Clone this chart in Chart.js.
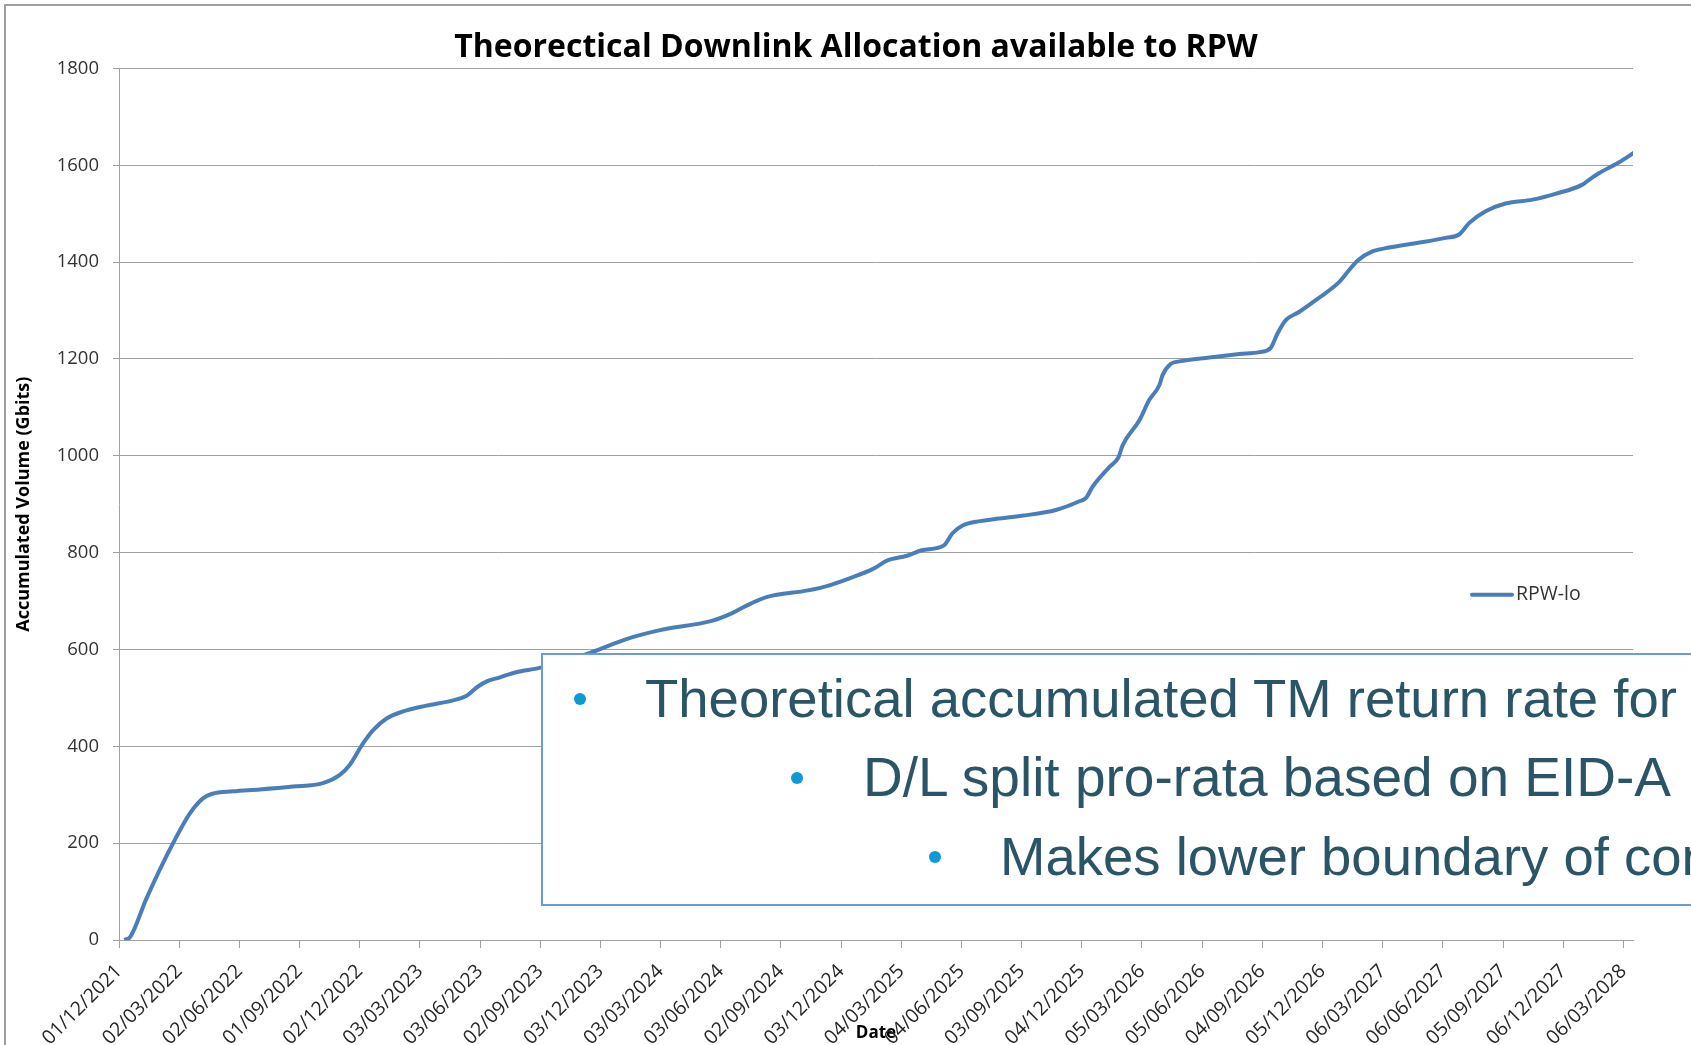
<!DOCTYPE html>
<html>
<head>
<meta charset="utf-8">
<title>Theorectical Downlink Allocation available to RPW</title>
<script src="https://cdn.jsdelivr.net/npm/chart.js@4.4.1/dist/chart.umd.min.js"></script>
<style>
  html, body { margin: 0; padding: 0; background: #fff; overflow: hidden; }
  #wrap { position: relative; width: 1691px; height: 1045px; overflow: hidden; }
  #frame { position: absolute; left: 4px; top: 4px; width: 1800px; height: 1100px;
           border-left: 2px solid #a0a0a0; border-top: 2px solid #a0a0a0; }
  #chart { position: absolute; left: 0; top: 0; }
  #note { position: absolute; left: 541px; top: 653px; width: 1300px; height: 249px;
          border: 2px solid #6a9bd8; background: #fff; }
  .line { position: absolute; white-space: nowrap; font-family: "Liberation Sans", Arial, sans-serif;
          font-size: 54.5px; line-height: 54px; color: #2a5566; }
  .dot { position: absolute; width: 12px; height: 12px; border-radius: 50%; background: #0d98d8; }
</style>
</head>
<body>
<div id="wrap">
  <div id="frame"></div>
  <canvas id="chart" width="1691" height="1045"></canvas>
  <div id="note"></div>
  <span class="dot" style="left:574px;top:693px"></span>
  <div class="line" style="left:645px;top:672px">Theoretical accumulated TM return rate for</div>
  <span class="dot" style="left:791px;top:772px"></span>
  <div class="line" style="left:863px;top:750px;font-size:55px">D/L split pro-rata based on EID-A</div>
  <span class="dot" style="left:929px;top:851px"></span>
  <div class="line" style="left:1000px;top:830px">Makes lower boundary of con</div>
</div>
<script>
    'use strict';

    // date labels shown on the category ticks (one every 13 weeks)
    var tickDates = ['01/12/2021', '02/03/2022', '02/06/2022', '01/09/2022', '02/12/2022',
        '03/03/2023', '03/06/2023', '02/09/2023', '03/12/2023', '03/03/2024', '03/06/2024',
        '02/09/2024', '03/12/2024', '04/03/2025', '04/06/2025', '03/09/2025', '04/12/2025',
        '05/03/2026', '05/06/2026', '04/09/2026', '05/12/2026', '06/03/2027', '06/06/2027',
        '05/09/2027', '06/12/2027', '06/03/2028'];

    // position of each sample along the axis, in tick units (0 = 01/12/2021)
    var pointPos = [0.09, 0.19, 0.45, 0.68, 0.92, 1.17, 1.39, 1.55, 1.89, 2.34, 2.89, 3.39,
        3.67, 3.83, 4.05, 4.22, 4.44, 4.72, 5.11, 5.55, 5.77, 5.96, 6.13, 6.32, 6.60, 6.99,
        7.85, 8.42, 8.99, 9.85, 10.19, 10.42, 10.76, 11.45, 11.79, 12.14, 12.54, 12.77, 13.11,
        13.34, 13.71, 13.85, 14.02, 14.31, 15.00, 15.57, 15.96, 16.07, 16.18, 16.46, 16.61,
        16.68, 16.96, 17.12, 17.29, 17.34, 17.48, 17.62, 18.12, 18.62, 18.95, 19.14, 19.25,
        19.39, 19.61, 19.94, 20.28, 20.44, 20.58, 20.83, 21.11, 21.49, 22.05, 22.27, 22.44,
        22.71, 23.04, 23.49, 23.87, 24.32, 24.43, 24.60, 24.93, 25.18];

    // accumulated volume (Gbits)
    var rpwLo = [0, 7, 84, 146, 205, 260, 292, 302, 307, 311, 317, 324,
        341, 361, 405, 433, 457, 472, 484, 495, 504, 523, 535, 542, 553, 562,
        594, 621, 640, 659, 675, 690, 708, 722, 732, 747, 767, 784, 794,
        805, 815, 840, 856, 865, 876, 888, 906, 913, 936, 977, 997,
        1022, 1074, 1115, 1146, 1166, 1190, 1195, 1203, 1210, 1214, 1223, 1252,
        1280, 1297, 1326, 1359, 1383, 1403, 1422, 1430, 1438, 1450, 1457, 1481,
        1505, 1521, 1529, 1541, 1560, 1570, 1584, 1606, 1626];

    var lineColor = '#4a7ebb';
    var gridColor = '#a0a0a0';

    // excel style legend sitting inside the plot, right side
    var legendLine = {
        id: 'legendLine',
        afterDraw: function (chart) {
            var ctx = chart.ctx;
            var area = chart.chartArea;
            var y = area.top + (area.bottom - area.top) * 0.604;
            var x0 = area.right - 161;
            ctx.save();
            ctx.strokeStyle = lineColor;
            ctx.lineWidth = 4;
            ctx.lineCap = 'round';
            ctx.beginPath();
            ctx.moveTo(x0, y);
            ctx.lineTo(x0 + 40, y);
            ctx.stroke();
            ctx.fillStyle = '#333';
            ctx.font = '19.5px "Open Sans"';
            ctx.textBaseline = 'middle';
            ctx.fillText(chart.data.datasets[0].label, x0 + 44, y);
            ctx.restore();
        }
    };

    var ctx = document.getElementById('chart').getContext('2d');
    var myChart = new Chart(ctx, {
        type: 'line',
        data: {
            datasets: [{
                label: 'RPW-lo',
                data: pointPos.map(function (x, i) { return {x: x, y: rpwLo[i]}; }),
                borderColor: lineColor,
                borderWidth: 4,
                pointRadius: 0,
                cubicInterpolationMode: 'monotone',
                fill: false
            }]
        },
        options: {
            responsive: false,
            animation: false,
            layout: {
                padding: {left: 21, right: 0, top: 0, bottom: 0}
            },
            plugins: {
                legend: {display: false},
                tooltip: {enabled: false},
                title: {
                    display: true,
                    text: 'Theorectical Downlink Allocation available to RPW',
                    color: '#000',
                    font: {family: 'Open Sans', size: 32, weight: 'bold'},
                    padding: {top: 29, bottom: 1}
                }
            },
            scales: {
                x: {
                    type: 'linear',
                    min: 0,
                    max: 25.16,
                    afterFit: function (scale) {
                        scale.height = 105;
                        scale.paddingLeft = 0;
                        scale.paddingRight = 0;
                    },
                    grid: {drawOnChartArea: false, color: gridColor, tickLength: 8},
                    border: {color: gridColor},
                    ticks: {
                        stepSize: 1,
                        includeBounds: false,
                        autoSkip: false,
                        minRotation: 45,
                        maxRotation: 45,
                        padding: 12,
                        color: '#262626',
                        font: {family: 'Open Sans', size: 19.5},
                        callback: function (value) {
                            var label = tickDates[Math.round(value)];
                            return label === undefined ? '' : label;
                        }
                    },
                    title: {
                        display: true,
                        text: 'Date',
                        color: '#000',
                        font: {family: 'Open Sans', size: 17, weight: 'bold'},
                        padding: {top: 0, bottom: 2}
                    }
                },
                y: {
                    min: 0,
                    max: 1800,
                    afterFit: function (scale) {
                        scale.width = 98;
                    },
                    grid: {color: gridColor, tickLength: 6},
                    border: {color: gridColor},
                    ticks: {
                        stepSize: 200,
                        padding: 14,
                        color: '#333',
                        font: {family: 'Open Sans', size: 18.5},
                        callback: function (value) {
                            return String(value);
                        }
                    },
                    title: {
                        display: true,
                        text: 'Accumulated Volume (Gbits)',
                        color: '#000',
                        font: {family: 'Open Sans', size: 18, weight: 'bold'},
                        padding: {top: -8, bottom: 0}
                    }
                },
                // empty right side strip, the plot stops short of the page edge
                yRight: {
                    position: 'right',
                    afterFit: function (scale) {
                        scale.width = 58;
                    },
                    grid: {display: false},
                    border: {display: false},
                    ticks: {display: false}
                }
            }
        },
        plugins: [legendLine]
    });
</script>
</body>
</html>
